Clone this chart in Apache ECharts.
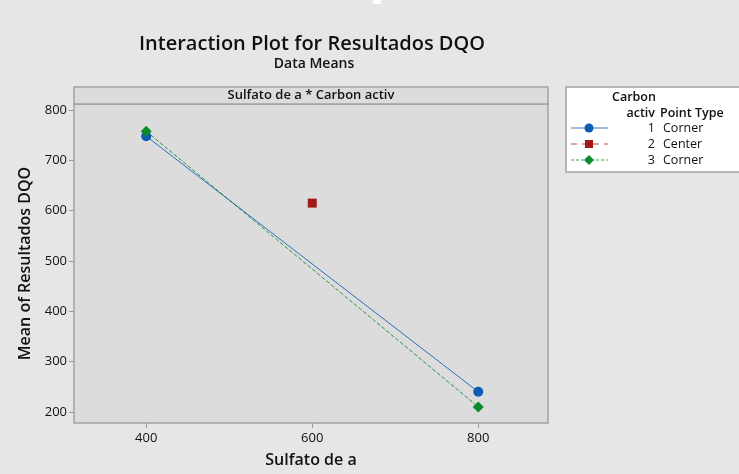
<!DOCTYPE html>
<html><head><meta charset="utf-8">
<script src="https://cdn.jsdelivr.net/npm/echarts@6/dist/echarts.min.js"></script>
<style>html,body{margin:0;padding:0;background:#e6e6e6;}#c{width:739px;height:474px;}</style>
</head><body><div id="c"></div>
<script>
var xTicks = [400, 600, 800];
var yTicks = [200, 300, 400, 500, 600, 700, 800];
var levelsCarbon = ['1', '2', '3'];
var pointTypes = ['Corner', 'Center', 'Corner'];
var sulfato = [400, 800];
var carbon1 = [748, 240];
var carbon3 = [758, 210];
var centerX = [600];
var center2 = [615];

var FONT = '"Open Sans", "Noto Sans", sans-serif';
var cBlue = '#0c5cb4', cRed = '#a31919', cGreen = '#0b8a2a';

function pairs(xs, ys){ return xs.map(function(x,i){ return [x, ys[i]]; }); }

var chart = echarts.init(document.getElementById('c'), null, {renderer:'canvas'});

var legendGraphics = [];
var rowY = [128, 144, 160];
var styles = [
  {color:cBlue, dash:null, sym:'circle'},
  {color:cRed, dash:[6,5], sym:'rect'},
  {color:cGreen, dash:[3,2], sym:'diamond'}
];
levelsCarbon.forEach(function(lv, i){
  var s = styles[i], y = rowY[i];
  legendGraphics.push({type:'line', shape:{x1:571,y1:y,x2:608,y2:y}, style:{stroke:s.color, lineWidth:1, lineDash:s.dash, opacity:0.8}});
  if (s.sym === 'circle') legendGraphics.push({type:'circle', shape:{cx:589,cy:y,r:4.5}, style:{fill:s.color}});
  else if (s.sym === 'rect') legendGraphics.push({type:'rect', shape:{x:585,y:y-4,width:8,height:8}, style:{fill:s.color}});
  else legendGraphics.push({type:'polygon', shape:{points:[[589,y-5],[594,y],[589,y+5],[584,y]]}, style:{fill:s.color}});
  legendGraphics.push({type:'text', x:655, y:y, style:{text:lv, font:'12.5px '+FONT, fill:'#111', align:'right', verticalAlign:'middle'}});
  legendGraphics.push({type:'text', x:663, y:y, style:{text:pointTypes[i], font:'12.5px '+FONT, fill:'#111', align:'left', verticalAlign:'middle'}});
});

chart.setOption({
  backgroundColor:'#e6e6e6',
  animation:false,
  title:[
    {text:'Interaction Plot for Resultados DQO', left:307, top:29, textAlign:'center',
     textStyle:{fontFamily:FONT, fontSize:20, fontWeight:600, color:'#111'}},
    {text:'Data Means', left:309, top:52, textAlign:'center',
     textStyle:{fontFamily:FONT, fontSize:14, fontWeight:600, color:'#111'}}
  ],
  grid:{left:74, right:191, top:104, bottom:51, outerBoundsMode:'none', show:true, backgroundColor:'#dcdcdc', borderColor:'#a3a3a3', borderWidth:1.5},
  xAxis:{type:'value', min:313, max:884,
    name:'Sulfato de a', nameLocation:'middle', nameGap:29,
    nameTextStyle:{fontFamily:FONT, fontSize:16, fontWeight:600, color:'#111'},
    axisLine:{show:false}, splitLine:{show:false},
    axisTick:{show:true, customValues:xTicks, length:5, lineStyle:{color:'#999'}},
    axisLabel:{customValues:xTicks, fontFamily:FONT, fontSize:13, color:'#111', margin:9}
  },
  yAxis:{type:'value', min:178, max:812,
    name:'Mean of Resultados DQO', nameLocation:'middle', nameGap:38,
    nameTextStyle:{fontFamily:FONT, fontSize:16, fontWeight:600, color:'#111'},
    axisLine:{show:false}, splitLine:{show:false},
    axisTick:{show:true, customValues:yTicks, length:5, lineStyle:{color:'#999'}},
    axisLabel:{customValues:yTicks, fontFamily:FONT, fontSize:13, color:'#111', margin:7}
  },
  series:[
    {type:'line', name:'1', data:pairs(sulfato, carbon1), symbol:'circle', symbolSize:10,
     itemStyle:{color:cBlue, opacity:1}, lineStyle:{color:cBlue, width:1, opacity:0.85}, z:3},
    {type:'scatter', name:'2', data:pairs(centerX, center2), symbol:'rect', symbolSize:9,
     itemStyle:{color:cRed, opacity:1}, z:3},
    {type:'line', name:'3', data:pairs(sulfato, carbon3), symbol:'diamond', symbolSize:11,
     itemStyle:{color:cGreen, opacity:1}, lineStyle:{color:cGreen, width:1, type:[4,2], opacity:0.85}, z:4}
  ],
  graphic:[
    {type:'rect', shape:{x:74,y:87,width:474,height:17}, style:{fill:'#dcdcdc', stroke:'#a3a3a3', lineWidth:1.5}},
    {type:'text', x:311, y:95.5, style:{text:'Sulfato de a * Carbon activ', font:'600 13px '+FONT, fill:'#111', align:'center', verticalAlign:'middle'}},
    {type:'rect', shape:{x:566,y:87,width:180,height:85}, style:{fill:'#ffffff', stroke:'#a3a3a3', lineWidth:1.5}},
    {type:'text', x:612, y:97, style:{text:'Carbon', font:'600 12.5px '+FONT, fill:'#111', align:'left', verticalAlign:'middle'}},
    {type:'text', x:655, y:113, style:{text:'activ', font:'600 12.5px '+FONT, fill:'#111', align:'right', verticalAlign:'middle'}},
    {type:'text', x:660, y:113, style:{text:'Point Type', font:'600 12.5px '+FONT, fill:'#111', align:'left', verticalAlign:'middle'}},
    {type:'rect', shape:{x:373,y:0,width:8,height:4}, style:{fill:'#ffffff'}}
  ].concat(legendGraphics)
});
</script></body></html>
